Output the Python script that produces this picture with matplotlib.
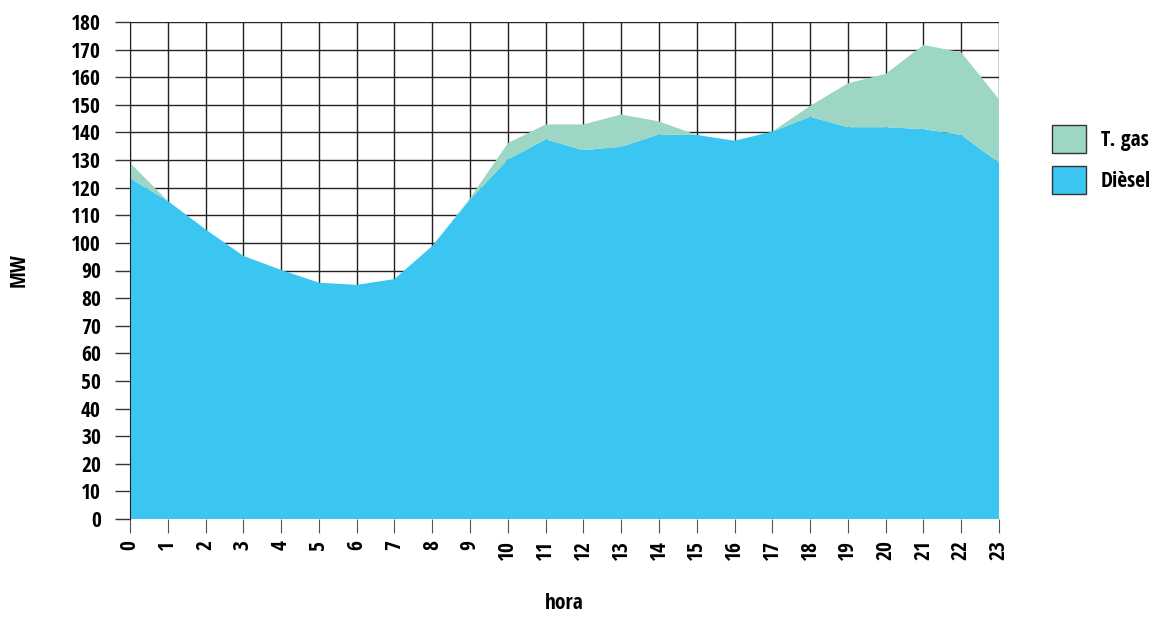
import matplotlib.pyplot as plt
from matplotlib.patches import Patch
import numpy as np

hours = list(range(24))
diesel = [123.4, 115.2, 104.9, 95.3, 90.2, 85.6, 84.8, 86.9, 98.9, 115.7,
          130.2, 137.5, 133.6, 134.8, 139.3, 139.1, 137.0, 140.3, 145.7, 141.9,
          141.9, 141.2, 139.1, 129.1]
tgas = [5.6, 0, 0, 0, 0, 0, 0, 0, 0, 0.5,
        5.9, 5.4, 9.3, 11.7, 4.7, 0, 0, 0, 3.9, 15.9,
        19.3, 30.5, 29.9, 22.9]
yticks = list(range(0, 181, 10))

blue = '#3BC6F2'
green = '#9DD6C5'

plt.rcParams['font.family'] = ['Open Sans Condensed', 'DejaVu Sans']
plt.rcParams['font.weight'] = 'bold'

fig = plt.figure(figsize=(11.68, 6.19), dpi=100)
ax = fig.add_axes([130/1168, 100/619, 869/1168, 497/619])

ax.stackplot(hours, diesel, tgas, colors=[blue, green], linewidth=0, zorder=2)

ax.set_xlim(0, 23)
ax.set_ylim(0, 180)
ax.set_xticks(hours)
ax.set_yticks(yticks)
ax.grid(True, color='#222222', linewidth=1.0, zorder=1)
ax.set_axisbelow(True)
for s in ['top', 'right', 'bottom']:
    ax.spines[s].set_visible(False)
ax.spines['left'].set_color('#222222')
ax.tick_params(axis='x', length=10, width=0.8, color='#555555', pad=5,
               labelrotation=90, labelsize=15.5)
ax.tick_params(axis='y', length=11, width=1.0, color='#333333', pad=10,
               labelsize=15.5)
for lab in ax.get_xticklabels() + ax.get_yticklabels():
    lab.set_fontweight('bold')

ax.set_xlabel('hora', fontsize=15.5, fontweight='bold', labelpad=24)
ax.set_ylabel('MW', fontsize=15.5, fontweight='bold', labelpad=30)

handles = [Patch(facecolor=green, edgecolor='#333333', label='T. gas'),
           Patch(facecolor=blue, edgecolor='#333333', label='Dièsel')]
fig.legend(handles=handles, loc='upper left', bbox_to_anchor=(1033/1168, 1 - 106/619),
           frameon=False, prop={'weight': 'bold', 'size': 15.5},
           handlelength=1.55, handleheight=1.6, labelspacing=0.6, handletextpad=0.7)

plt.savefig('out.png', dpi=100)
plt.close('all')
